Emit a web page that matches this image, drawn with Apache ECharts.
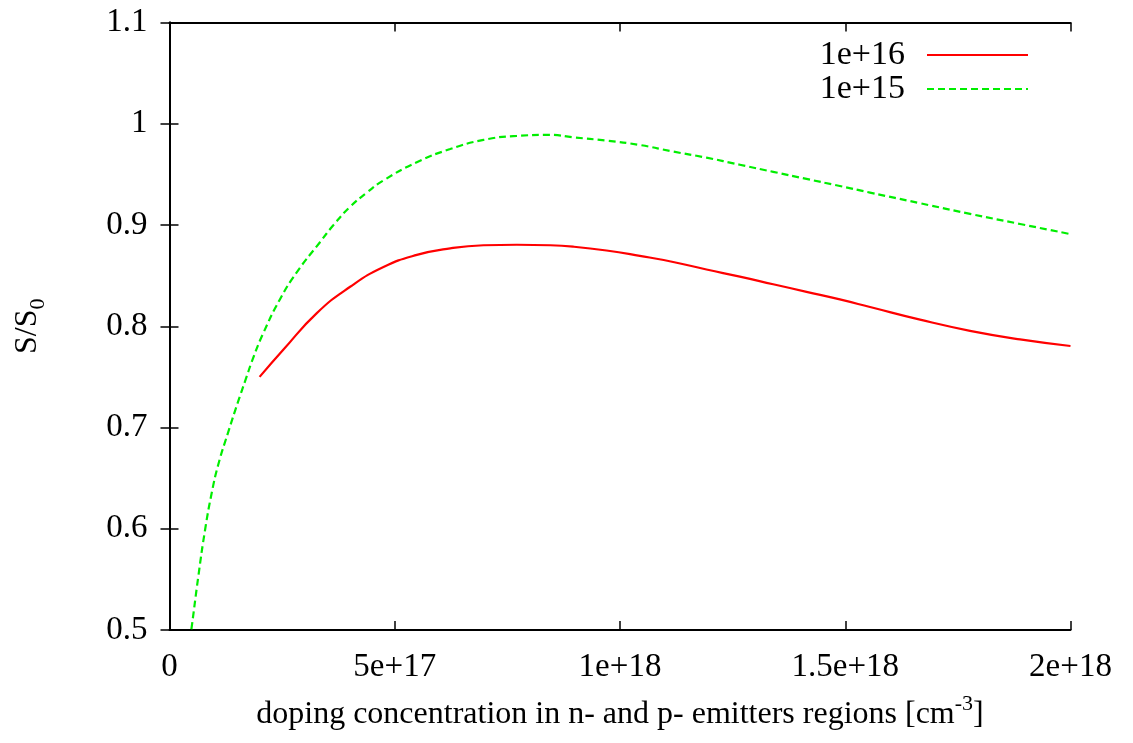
<!DOCTYPE html>
<html>
<head>
<meta charset="utf-8">
<title>S/S0 vs doping</title>
<script src="https://cdn.jsdelivr.net/npm/echarts@6/dist/echarts.min.js"></script>
<style>
  html, body { margin: 0; padding: 0; background: #fff; }
  #chart { width: 1133px; height: 743px; }
</style>
</head>
<body>
<div id="chart"></div>
<script>
// values
var seriesNames = ['1e+16', '1e+15'];

// 1e+16 curve: [doping, S/S0]
var curve16 = [
  [2.0e17, 0.750], [2.53e17, 0.777], [3.27e17, 0.813], [4.01e17, 0.839],
  [4.75e17, 0.8585], [5.49e17, 0.8705], [6.23e17, 0.877], [6.97e17, 0.880],
  [7.71e17, 0.8805], [8.45e17, 0.880], [8.96e17, 0.8786], [9.7e17, 0.8748],
  [1.044e18, 0.8695], [1.118e18, 0.8635], [1.192e18, 0.856], [1.266e18, 0.849],
  [1.34e18, 0.8415], [1.414e18, 0.834], [1.488e18, 0.8265], [1.555e18, 0.819],
  [1.666e18, 0.8065], [1.777e18, 0.7955], [1.888e18, 0.787], [2.0e18, 0.7805]
];

// 1e+15 curve
var curve15 = [
  [4.5e16, 0.490], [4.9e16, 0.502], [6.4e16, 0.553], [7.9e16, 0.599],
  [9.4e16, 0.636], [1.08e17, 0.663], [1.3e17, 0.695], [1.53e17, 0.7265],
  [1.68e17, 0.746], [1.86e17, 0.769], [2.08e17, 0.793], [2.45e17, 0.8265],
  [2.82e17, 0.853], [3.34e17, 0.883], [3.64e17, 0.900], [4.01e17, 0.918],
  [4.38e17, 0.932], [4.75e17, 0.944], [5.49e17, 0.962], [6.23e17, 0.975],
  [6.97e17, 0.984], [7.71e17, 0.988], [8.45e17, 0.989], [8.96e17, 0.9866],
  [9.7e17, 0.9833], [1.044e18, 0.979], [1.118e18, 0.9725], [1.192e18, 0.9665],
  [1.266e18, 0.9595], [1.34e18, 0.9525], [1.414e18, 0.9455], [1.488e18, 0.9385],
  [1.555e18, 0.932], [1.666e18, 0.9215], [1.777e18, 0.911], [1.888e18, 0.901],
  [2.0e18, 0.891]
];

var xTickLabels = ['0', '5e+17', '1e+18', '1.5e+18', '2e+18'];
var yTickLabels = ['0.5', '0.6', '0.7', '0.8', '0.9', '1', '1.1'];

var font = 'Liberation Serif';
var chart = echarts.init(document.getElementById('chart'));

function frameAxis(extra) {
  var base = {
    axisLine: { show: true, lineStyle: { color: '#000', width: 2 } },
    axisTick: { show: true, inside: true, length: 9, lineStyle: { color: '#000', width: 1.5 } },
    splitLine: { show: false }
  };
  return Object.assign(base, extra);
}

var option = {
  animation: false,
  backgroundColor: '#fff',
  textStyle: { fontFamily: font },
  grid: { left: 169.5, right: 62.5, top: 22.5, bottom: 113, outerBoundsMode: 'none' },
  legend: {
    orient: 'vertical',
    right: 99,
    top: 33,
    align: 'right',
    itemWidth: 101,
    itemHeight: 14,
    itemGap: 0,
    data: seriesNames,
    itemStyle: { opacity: 0 },
    textStyle: { fontFamily: font, fontSize: 34, lineHeight: 34, color: '#000', padding: [0, 17, 0, 0] }
  },
  xAxis: [
    frameAxis({
      type: 'value', min: 0, max: 2e18, interval: 5e17, position: 'bottom',
      name: '{m|doping concentration in n- and p- emitters regions [cm}{sup|-3}{m|]}',
      nameLocation: 'middle',
      nameGap: 63,
      nameTextStyle: {
        fontFamily: font, fontSize: 32, color: '#000',
        rich: {
          m: { fontFamily: font, fontSize: 32, lineHeight: 38, color: '#000', verticalAlign: 'bottom' },
          sup: { fontFamily: font, fontSize: 22, lineHeight: 22, color: '#000', verticalAlign: 'top' }
        }
      },
      axisLabel: {
        margin: 21, fontFamily: font, fontSize: 33, color: '#000',
        formatter: function (v, i) { return xTickLabels[i]; }
      }
    }),
    frameAxis({
      type: 'value', min: 0, max: 2e18, interval: 5e17, position: 'top',
      axisLabel: { show: false }
    })
  ],
  yAxis: [
    frameAxis({
      type: 'value', min: 0.5, max: 1.1, interval: 0.1, position: 'left',
      name: '{m|S/S}{sub|0}',
      nameLocation: 'middle',
      nameGap: 158,
      nameRotate: 90,
      nameTextStyle: {
        fontFamily: font, fontSize: 32, color: '#000', verticalAlign: 'top',
        rich: {
          m: { fontFamily: font, fontSize: 32, lineHeight: 38, color: '#000', verticalAlign: 'top' },
          sub: { fontFamily: font, fontSize: 22, lineHeight: 22, color: '#000', verticalAlign: 'bottom' }
        }
      },
      axisLabel: {
        margin: 22, fontFamily: font, fontSize: 33, color: '#000',
        formatter: function (v, i) { return yTickLabels[i]; }
      }
    }),
    frameAxis({
      type: 'value', min: 0.5, max: 1.1, interval: 0.1, position: 'right',
      axisLabel: { show: false }
    })
  ],
  series: [
    {
      name: seriesNames[0],
      type: 'line',
      data: curve16,
      symbol: 'none',
      smooth: 0.5,
      clip: true,
      lineStyle: { color: '#ff0000', width: 2.2 },
      itemStyle: { color: '#ff0000' }
    },
    {
      name: seriesNames[1],
      type: 'line',
      data: curve15,
      symbol: 'none',
      smooth: 0.5,
      clip: true,
      lineStyle: { color: '#00ee00', width: 2.2, type: [7, 4] },
      itemStyle: { color: '#00ee00' }
    }
  ]
};

chart.setOption(option);
</script>
</body>
</html>
